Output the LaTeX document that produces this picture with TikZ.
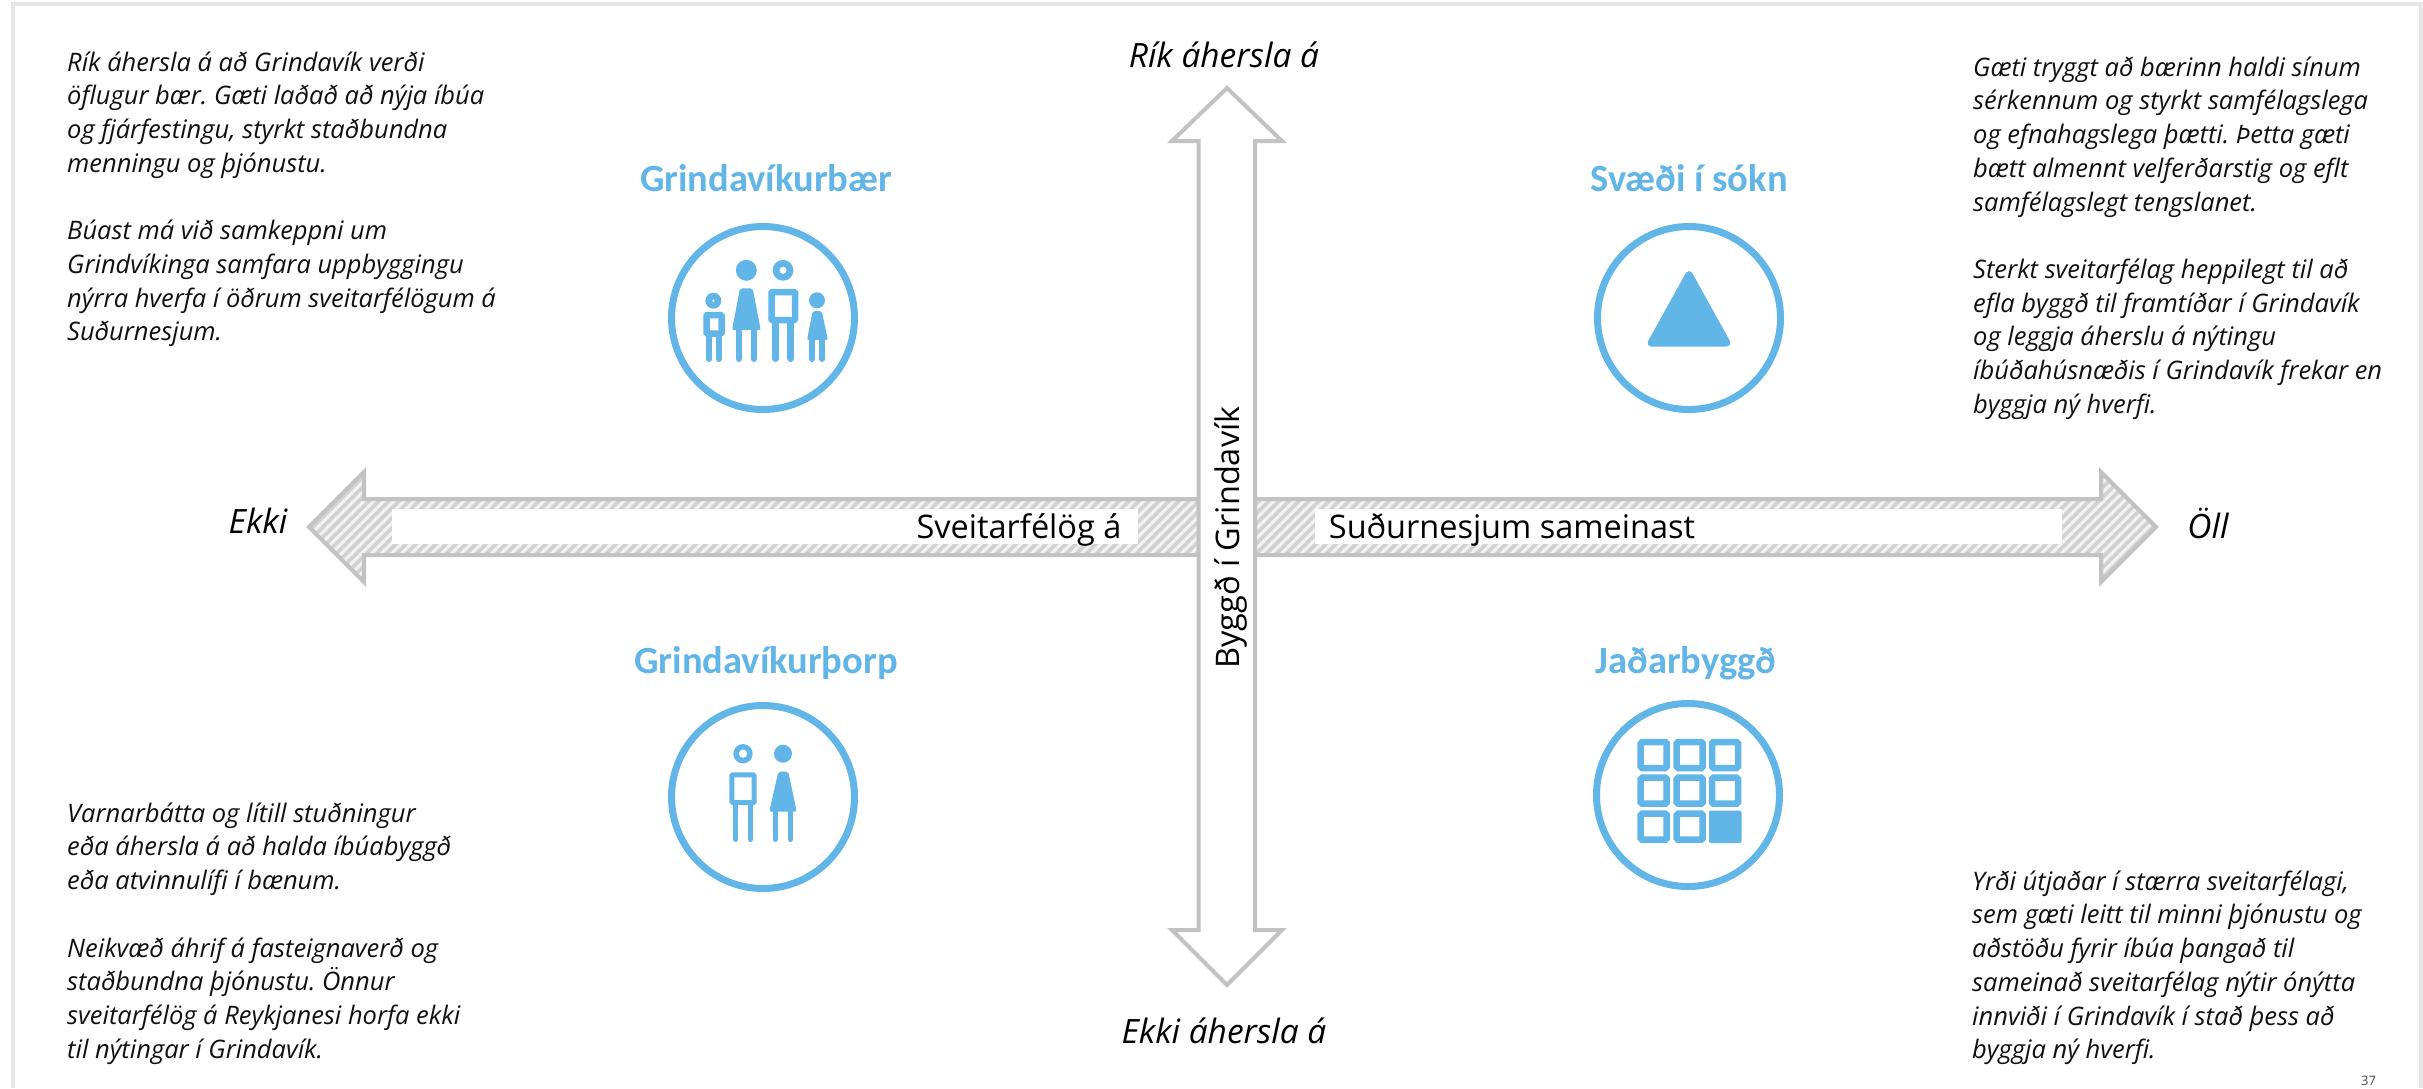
\documentclass[tikz,border=0pt]{standalone}
\usepackage{fontspec}
\setmainfont{Open Sans}
\newfontfamily\headfont{Carlito}[Scale=1.0]
\definecolor{iconblue}{HTML}{62B5E7}
\definecolor{arrowgray}{HTML}{C2C2C2}
\definecolor{framegray}{HTML}{E6E6E6}
\definecolor{hatchbg}{HTML}{F2F2F2}
\definecolor{hatchfg}{HTML}{D2D2D2}
\definecolor{textblack}{HTML}{111111}
\newcommand{\fl}{\rule{0pt}{25pt}}
\newcommand{\icohead}[3]{\fill[iconblue] (#1,#2) circle (#3);}
\newcommand{\icoring}[4]{\fill[iconblue,even odd rule] (#1,#2) circle (#3) (#1,#2) circle (#4);}
\newcommand{\icoleg}[5]{\draw[iconblue,line width=#5,line cap=round] (#1,#2+#5/2) -- (#1,#4-#5/2) (#3,#2+#5/2) -- (#3,#4-#5/2);}
\tikzset{
 x=1pt,y=-1pt,
 bodytext/.style={anchor=north west,inner sep=0pt,align=left,text=textblack,font=\fontsize{25.5}{33.7}\selectfont\itshape\frenchspacing},
 axislabel/.style={anchor=base,inner sep=0pt,text=black,font=\fontsize{33.5}{40}\selectfont\itshape},
 axisname/.style={anchor=base,inner sep=0pt,text=black,font=\fontsize{32.5}{40}\selectfont},
 heading/.style={anchor=base,inner sep=0pt,text=iconblue,font=\headfont\fontsize{38.5}{46}\selectfont\bfseries},
 iconring/.style={circle,draw=iconblue,line width=7pt,minimum size=183pt,inner sep=0pt,fill=white},
 arrowline/.style={draw=arrowgray,line width=4pt,miter limit=10},
 whitebar/.style={fill=white,draw=none},
 solidblue/.style={fill=iconblue,draw=iconblue,line join=round},
 cellbox/.style={draw=iconblue,line width=6.5pt,rounded corners=1.5pt},
}
\begin{document}
\begin{tikzpicture}
\useasboundingbox (0,0) rectangle (2423,1088);
\fill[white] (0,0) rectangle (2423,1088);
\draw[framegray,line width=4pt] (13,1088) -- (13,4) -- (2421,4) -- (2421,1088);

% horizontal arrow
\begin{scope}
\clip (309,527) -- (364,472) -- (364,499) -- (2101,499) -- (2101,472) -- (2156,527) -- (2101,582) -- (2101,555) -- (364,555) -- (364,582) -- cycle;
\fill[hatchbg] (300,460) rectangle (2170,600);
\foreach \k in {0,...,225}{
 \draw[hatchfg,line width=3.6pt] ({140+10*\k},600) -- ({280+10*\k},460);
}
\end{scope}
\fill[whitebar] (392,509) rectangle (1138,544);
\fill[whitebar] (1315,509) rectangle (2062,544);
\draw[arrowline] (309,527) -- (364,472) -- (364,499) -- (2101,499) -- (2101,472) -- (2156,527) -- (2101,582) -- (2101,555) -- (364,555) -- (364,582) -- cycle;

% vertical arrow
\draw[arrowline,fill=white] (1227,88) -- (1282,141) -- (1255,141) -- (1255,930) -- (1282,930) -- (1227,985) -- (1172,930) -- (1198.5,930) -- (1198.5,141) -- (1172,141) -- cycle;

% axis labels
\node[axislabel] (top) at (1224,67) {Rík áhersla á};
\node[axislabel] (bottom) at (1224,1043) {Ekki áhersla á};
\node[axislabel] (left) at (258,533) {Ekki};
\node[axislabel] (right) at (2208,538) {Öll};
\node[axisname] (h1) at (1019,538) {Sveitarfélög á};
\node[axisname] (h2) at (1512,538) {Suðurnesjum sameinast};
\node[axisname,rotate=90] (v1) at (1239,537.5) {Byggð í Grindavík};

% headings
\node[heading] (hTL) at (766,191) {Grindavíkurbær};
\node[heading] (hTR) at (1689,191) {Svæði í sókn};
\node[heading] (hBL) at (766,673) {Grindavíkurþorp};
\node[heading] (hBR) at (1686,673) {Jaðarbyggð};

% icon rings
\node[iconring] (cTL) at (763,318) {};
\node[iconring] (cTR) at (1689,318) {};
\node[iconring] (cBL) at (763,797) {};
\node[iconring] (cBR) at (1688,795) {};

% triangle
\draw[solidblue,line width=7pt] (1689,274.5) -- (1651,343) -- (1727,343) -- cycle;

% family
\icoring{713.3}{300.7}{8}{1.5}
\draw[iconblue,line width=6.5pt,rounded corners=1pt] (706.5,315) rectangle (721.5,333.5);
\icoleg{709}{335}{719}{362}{6}
\icohead{746.3}{270.3}{10.5}
\fill[iconblue,rounded corners=2pt] (740,288.3) -- (752.7,288.3) -- (760.7,330) -- (732,330) -- cycle;
\icoleg{739}{328}{754}{362}{6.6}
\icoring{783}{270.3}{10.4}{3.7}
\draw[iconblue,line width=6.5pt,rounded corners=1pt] (771.5,292) rectangle (795,320);
\icoleg{775.7}{320}{790.7}{362}{6.6}
\icohead{817}{300.3}{8}
\fill[iconblue,rounded corners=2pt] (812.7,311) -- (821.7,311) -- (828,340) -- (807,340) -- cycle;
\icoleg{812.3}{338}{822.3}{362}{6}

% couple
\icoring{743}{753.7}{9.7}{4.3}
\draw[iconblue,line width=5pt,rounded corners=1pt] (731.8,774.8) rectangle (754.2,802.5);
\icoleg{735.7}{803}{750.3}{842}{5}
\icohead{783}{753.7}{9}
\fill[iconblue,rounded corners=2pt] (778.3,771.7) -- (788.3,771.7) -- (796.7,811.7) -- (769.3,811.7) -- cycle;
\icoleg{775.3}{810}{790.3}{842}{5}

% grid of houses
\foreach \cx/\cy in {1653.7/755,1689.7/755,1725/755,1653.7/790.7,1689.7/790.7,1725/790.7,1653.7/826.7,1689.7/826.7}{
 \draw[cellbox] ({\cx-13},{\cy-13}) rectangle ({\cx+13},{\cy+13});
}
\fill[iconblue,rounded corners=2pt] (1709,810.5) rectangle (1741.5,843);

% body texts
\node[bodytext] (tTL) at (67,46) {\fl Rík áhersla á að Grindavík verði\\öflugur bær. Gæti laðað að nýja íbúa\\og fjárfestingu, styrkt staðbundna\\menningu og þjónustu.\\[33.7pt]Búast má við samkeppni um\\Grindvíkinga samfara uppbyggingu\\nýrra hverfa í öðrum sveitarfélögum á\\Suðurnesjum.};
\node[bodytext] (tTR) at (1973,51) {\fl Gæti tryggt að bærinn haldi sínum\\sérkennum og styrkt samfélagslega\\og efnahagslega þætti. Þetta gæti\\bætt almennt velferðarstig og eflt\\samfélagslegt tengslanet.\\[33.7pt]Sterkt sveitarfélag heppilegt til að\\efla byggð til framtíðar í Grindavík\\og leggja áherslu á nýtingu\\íbúðahúsnæðis í Grindavík frekar en\\byggja ný hverfi.};
\node[bodytext] (tBL) at (67,797) {\fl Varnarbátta og lítill stuðningur\\eða áhersla á að halda íbúabyggð\\eða atvinnulífi í bænum.\\[33.7pt]Neikvæð áhrif á fasteignaverð og\\staðbundna þjónustu. Önnur\\sveitarfélög á Reykjanesi horfa ekki\\til nýtingar í Grindavík.};
\node[bodytext] (tBR) at (1972,865) {\fl Yrði útjaðar í stærra sveitarfélagi,\\sem gæti leitt til minni þjónustu og\\aðstöðu fyrir íbúa þangað til\\sameinað sveitarfélag nýtir ónýtta\\innviði í Grindavík í stað þess að\\byggja ný hverfi.};
\node[anchor=base west,inner sep=0pt,text=black!70,font=\fontsize{13}{15}\selectfont] (page) at (2361,1085) {37};
\end{tikzpicture}
\end{document}
